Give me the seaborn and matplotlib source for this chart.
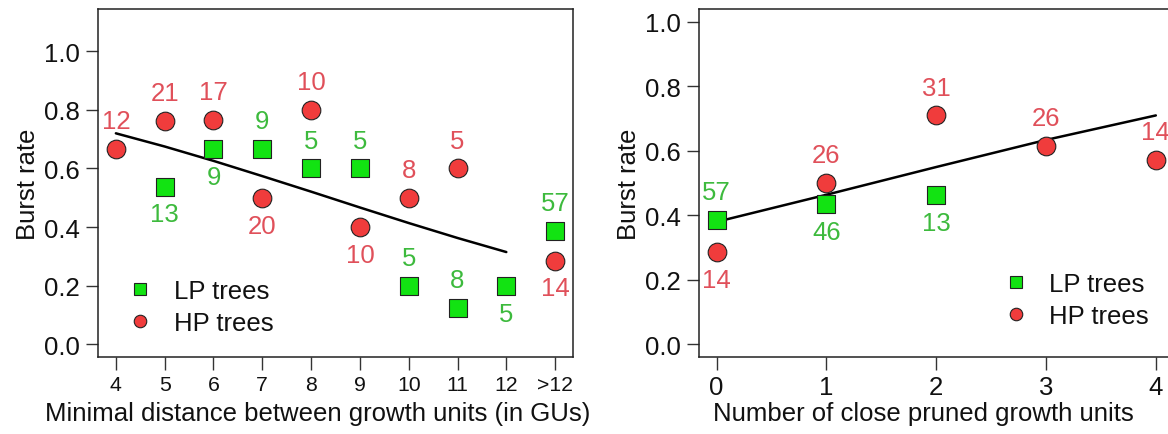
import matplotlib
matplotlib.use("Agg")
import matplotlib.pyplot as plt
from matplotlib.lines import Line2D
import seaborn as sns
import pandas as pd

sns.set_theme(style="white")
plt.rcParams['font.family'] = ['Liberation Sans', 'DejaVu Sans']

# ---------------- data: left panel ----------------
dist_ticks = ["4", "5", "6", "7", "8", "9", "10", "11", "12", ">12"]
dist_pos = [4, 5, 6, 7, 8, 9, 10, 11, 12, 13]

hp_dist_x = [4, 5, 6, 7, 8, 9, 10, 11, 13]
hp_dist_y = [0.667, 0.762, 0.765, 0.50, 0.80, 0.40, 0.50, 0.60, 0.286]
hp_dist_n = ["12", "21", "17", "20", "10", "10", "8", "5", "14"]
hp_dist_side = ["up", "up", "up", "down", "up", "down", "up", "up", "down"]

lp_dist_x = [5, 6, 7, 8, 9, 10, 11, 12, 13]
lp_dist_y = [0.538, 0.667, 0.667, 0.60, 0.60, 0.20, 0.125, 0.20, 0.386]
lp_dist_n = ["13", "9", "9", "5", "5", "5", "8", "5", "57"]
lp_dist_side = ["down", "down", "up", "up", "up", "up", "up", "down", "up"]

fit_dist_x = [4, 5, 6, 7, 8, 9, 10, 11, 12]
fit_dist_y = [0.72, 0.675, 0.626, 0.574, 0.521, 0.467, 0.414, 0.363, 0.315]

# ---------------- data: right panel ----------------
pruned_ticks = ["0", "1", "2", "3", "4"]
pruned_pos = [0, 1, 2, 3, 4]

hp_pr_x = [0, 1, 2, 3, 4]
hp_pr_y = [0.286, 0.50, 0.71, 0.615, 0.571]
hp_pr_n = ["14", "26", "31", "26", "14"]
hp_pr_side = ["down", "up", "up", "up", "up"]

lp_pr_x = [0, 1, 2]
lp_pr_y = [0.386, 0.435, 0.462]
lp_pr_n = ["57", "46", "13"]
lp_pr_side = ["up", "down", "down"]

fit_pr_x = [0, 1, 2, 3, 4]
fit_pr_y = [0.38, 0.464, 0.55, 0.634, 0.71]

# ---------------- styles ----------------
GREEN_FILL = "#12E312"
RED_FILL = "#F03C3C"
GREEN_TXT = "#3DBA3D"
RED_TXT = "#E0505A"
FS = 18.5
LAB_OFF = 20  # points

W, H = 1168, 435
fig = plt.figure(figsize=(W / 100, H / 100), dpi=100)
ax1 = fig.add_axes([98.3 / W, 1 - 358.3 / H, 474.4 / W, 348.3 / H])
ax2 = fig.add_axes([699.0 / W, 1 - 358.3 / H, 474.4 / W, 348.3 / H])


def draw_panel(ax, lp_x, lp_y, lp_n, lp_side, hp_x, hp_y, hp_n, hp_side,
               fx, fy):
    sns.lineplot(x=fx, y=fy, ax=ax, color="black", lw=1.8, zorder=2)
    sns.scatterplot(x=lp_x, y=lp_y, ax=ax, marker="s", s=160,
                    color=GREEN_FILL, edgecolor="#222222", linewidth=0.8,
                    zorder=3)
    sns.scatterplot(x=hp_x, y=hp_y, ax=ax, marker="o", s=180,
                    color=RED_FILL, edgecolor="#222222", linewidth=0.8,
                    zorder=3)
    for xs, ys, ns, sides, col in [(lp_x, lp_y, lp_n, lp_side, GREEN_TXT),
                                   (hp_x, hp_y, hp_n, hp_side, RED_TXT)]:
        for x, y, n, sd in zip(xs, ys, ns, sides):
            off = LAB_OFF if sd == "up" else -LAB_OFF
            ax.annotate(n, (x, y), xytext=(0, off), textcoords="offset points",
                        ha="center", va="center", color=col, fontsize=FS,
                        zorder=4, annotation_clip=False)
    for s in ax.spines.values():
        s.set_visible(True)
        s.set_color("#222222")
        s.set_linewidth(1.1)
    ax.tick_params(axis="both", which="both", length=9, width=1.0,
                   color="#333333", labelsize=FS, labelcolor="#111111",
                   direction="out", bottom=True, left=True, pad=4)
    ax.set_ylabel("Burst rate", fontsize=FS, color="#111111", labelpad=3)


draw_panel(ax1, lp_dist_x, lp_dist_y, lp_dist_n, lp_dist_side,
           hp_dist_x, hp_dist_y, hp_dist_n, hp_dist_side,
           fit_dist_x, fit_dist_y)
ax1.set_xlim(3.64, 13.36)
ax1.set_ylim(-0.044, 1.144)
ax1.set_xticks(dist_pos)
ax1.set_xticklabels(dist_ticks, fontsize=FS * 0.83)
ax1.set_yticks([0, 0.2, 0.4, 0.6, 0.8, 1.0])
ax1.set_yticklabels(["0.0", "0.2", "0.4", "0.6", "0.8", "1.0"])
ax1.set_xlabel("Minimal distance between growth units (in GUs)",
               fontsize=FS, color="#111111")
ax1.xaxis.set_label_coords(0.463, -0.125)

draw_panel(ax2, lp_pr_x, lp_pr_y, lp_pr_n, lp_pr_side,
           hp_pr_x, hp_pr_y, hp_pr_n, hp_pr_side,
           fit_pr_x, fit_pr_y)
ax2.set_xlim(-0.16, 4.16)
ax2.set_ylim(-0.04, 1.04)
ax2.set_xticks(pruned_pos)
ax2.set_xticklabels(pruned_ticks)
ax2.set_yticks([0, 0.2, 0.4, 0.6, 0.8, 1.0])
ax2.set_yticklabels(["0.0", "0.2", "0.4", "0.6", "0.8", "1.0"])
ax2.set_xlabel("Number of close pruned growth units",
               fontsize=FS, color="#111111")
ax2.xaxis.set_label_coords(0.474, -0.125)

handles = [
    Line2D([], [], linestyle="none", marker="s", markersize=8,
           markerfacecolor=GREEN_FILL, markeredgecolor="#222222",
           markeredgewidth=0.8, label="LP trees"),
    Line2D([], [], linestyle="none", marker="o", markersize=9,
           markerfacecolor=RED_FILL, markeredgecolor="#222222",
           markeredgewidth=0.8, label="HP trees"),
]
leg_kw = dict(frameon=False, fontsize=FS, handletextpad=0.7,
              labelspacing=0.3, handlelength=1.2, borderaxespad=0,
              labelcolor="#111111")
ax1.legend(handles=handles, loc="center left",
           bbox_to_anchor=(0.034, 0.145), **leg_kw)
ax2.legend(handles=handles, loc="center left",
           bbox_to_anchor=(0.614, 0.165), **leg_kw)

fig.savefig("out.png", dpi=100)
